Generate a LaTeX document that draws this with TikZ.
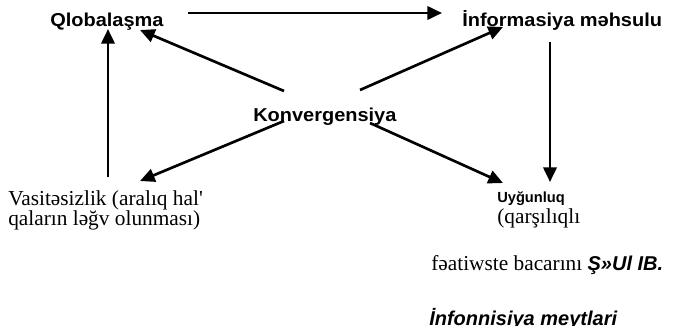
\documentclass[tikz,border=0pt]{standalone}
\usepackage{fontspec}
\setmainfont{Liberation Serif}
\setsansfont{Liberation Sans}
\usetikzlibrary{arrows.meta}
\newcommand{\wide}[1]{\scalebox{1.07}[1]{#1}}

\begin{document}
\begin{tikzpicture}[x=0.75pt,y=-0.75pt,
    every node/.style={inner sep=0pt,anchor=base west},
    head/.style={font=\sffamily\bfseries\fontsize{14}{16}\selectfont},
    body/.style={font=\fontsize{16}{15}\selectfont,align=left},
    small/.style={font=\sffamily\bfseries\fontsize{11}{13}\selectfont},
    slant/.style={font=\sffamily\bfseries\itshape\fontsize{15}{18}\selectfont},
    conn/.style={-{Triangle[length=11pt,width=10pt]},line width=2pt}]
  \fill[white] (0,0) rectangle (685,325);
  \useasboundingbox (0,0) rectangle (685,325);
  \node[head] (glob) at (50,26) {\wide{Qlobalaşma}};
  \node[head] (info) at (462,26) {\wide{İnformasiya məhsulu}};
  \node[head] (konv) at (253,121) {\wide{Konvergensiya}};
  \node[body,anchor=north west] (vasit) at (8,190) {Vasitəsizlik (aralıq hal\textquotesingle\\qaların ləğv olunması)};
  \node[small] (uyg) at (497,202) {Uyğunluq};
  \node[body] (qars) at (497,223) {(qarşılıqlı};
  \node[body] (feat) at (431,270) {fəatiwste bacarını {\sffamily\bfseries\itshape\fontsize{15}{18}\selectfont Ş»Ul IB.}};
  \node[slant] (infon) at (429,325) {İnfonnisiya meytlari};
  \draw[conn] ([shift={(24,-13)}]glob.base east) -- ([shift={(-20,-13)}]info.base west);
  \draw[conn] ([shift={(31,-30)}]konv.base west) -- ([shift={(90,4)}]glob.base west);
  \draw[conn] ([shift={(107,-31)}]konv.base west) -- ([shift={(41,1)}]info.base west);
  \draw[conn] ([shift={(31,0)}]konv.base west) -- ([shift={(132,-9)}]vasit.north west);
  \draw[conn] ([shift={(117,2)}]konv.base west) -- ([shift={(6,-19)}]uyg.base west);
  \draw[conn] ([shift={(88,16)}]info.base west) -- ([shift={(53,-20)}]uyg.base west);
  \draw[conn] ([shift={(100,-13)}]vasit.north west) -- ([shift={(58,3)}]glob.base west);
\end{tikzpicture}
\end{document}
